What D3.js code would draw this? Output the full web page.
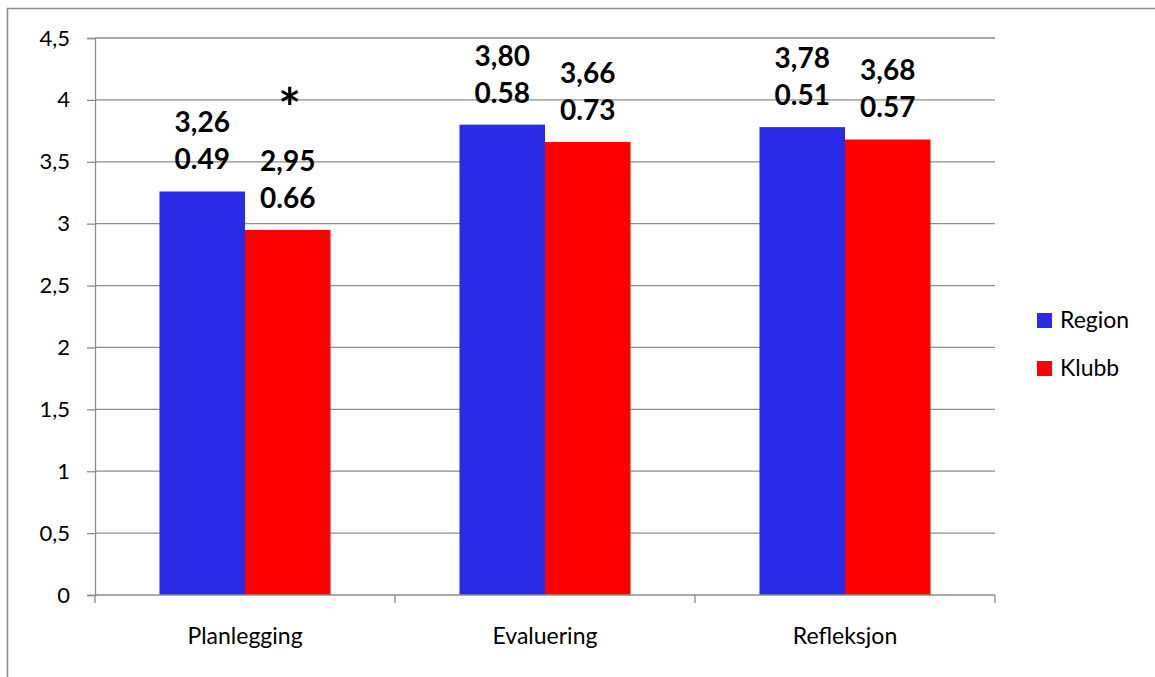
<!DOCTYPE html>
<html><head><meta charset="utf-8">
<script src="https://cdn.jsdelivr.net/npm/d3@7"></script>
<style>body{margin:0;background:#fff}svg{display:block}</style>
</head><body>
<script>
const categories = ["Planlegging", "Evaluering", "Refleksjon"];
const seriesNames = ["Region", "Klubb"];
const regionValues = [3.26, 3.80, 3.78];
const klubbValues = [2.95, 3.66, 3.68];
const regionSD = ["0.49", "0.58", "0.51"];
const klubbSD = ["0.66", "0.73", "0.57"];
const yTicks = [0, 0.5, 1, 1.5, 2, 2.5, 3, 3.5, 4, 4.5];
const colors = ["#2a2be6", "#ff0000"];
const significant = [true, false, false];

(function () {
const W = 1155, H = 677;
const svg = d3.select("body").append("svg").attr("width", W).attr("height", H);
const font = "Lato, 'Open Sans', sans-serif";

svg.append("rect").attr("x", 7.5).attr("y", 8.5).attr("width", W).attr("height", H)
  .attr("fill", "none").attr("stroke", "#8c8c8c").attr("stroke-width", 1.5);

const pL = 95, pR = 995, pT = 38, pB = 595;
const y = d3.scaleLinear().domain([0, 4.5]).range([pB, pT]);
const x0 = d3.scaleBand().domain(categories).range([pL, pR]).padding(0);
const x1 = d3.scaleBand().domain(seriesNames).range([0, x0.bandwidth()]).paddingInner(0).paddingOuter(0.754);

svg.append("g").selectAll("line").data(yTicks.filter(d => d > 0)).join("line")
  .attr("x1", pL).attr("x2", pR).attr("y1", d => y(d)).attr("y2", d => y(d))
  .attr("stroke", "#8c8c8c").attr("stroke-width", 1.3);

const fmt = d => String(d).replace(".", ",");
const yAxis = svg.append("g").attr("transform", `translate(${pL},0)`)
  .call(d3.axisLeft(y).tickValues(yTicks).tickFormat(fmt).tickSize(8).tickPadding(17));
yAxis.select(".domain").attr("stroke", "#8c8c8c").attr("stroke-width", 1.3);
yAxis.selectAll(".tick line").attr("stroke", "#8c8c8c").attr("stroke-width", 1.3);
yAxis.selectAll("text").attr("font-family", font).attr("font-size", 22).attr("fill", "#000");

const data = categories.map((c, i) => ({c, i, vals: [
  {s: "Region", v: regionValues[i], sd: regionSD[i], col: colors[0]},
  {s: "Klubb", v: klubbValues[i], sd: klubbSD[i], col: colors[1]}]}));
const g = svg.append("g").selectAll("g").data(data).join("g")
  .attr("transform", d => `translate(${x0(d.c)},0)`);
g.selectAll("rect").data(d => d.vals).join("rect")
  .attr("x", d => x1(d.s)).attr("width", x1.bandwidth())
  .attr("y", d => y(d.v)).attr("height", d => pB - y(d.v))
  .attr("fill", d => d.col);

const xAxis = svg.append("g").attr("transform", `translate(0,${pB})`);
xAxis.append("line").attr("x1", pL).attr("x2", pR).attr("stroke", "#8c8c8c").attr("stroke-width", 1.3);
xAxis.selectAll(".tk").data([...categories.map(c => x0(c)), pR]).join("line")
  .attr("x1", d => d).attr("x2", d => d).attr("y1", 0).attr("y2", 8)
  .attr("stroke", "#8c8c8c").attr("stroke-width", 1.3);
xAxis.selectAll("text").data(categories).join("text")
  .attr("x", d => x0(d) + x0.bandwidth() / 2).attr("y", 49)
  .attr("text-anchor", "middle").attr("font-family", font).attr("font-size", 23).attr("fill", "#000")
  .text(d => d);

g.selectAll("text.v").data(d => d.vals).join("text").attr("class", "v")
  .attr("x", d => x1(d.s) + x1.bandwidth() / 2).attr("y", d => y(d.v) - 59)
  .attr("text-anchor", "middle").attr("font-family", font).attr("font-weight", "bold")
  .attr("font-size", 28).attr("fill", "#000").text(d => d.v.toFixed(2).replace(".", ","));
g.selectAll("text.sd").data(d => d.vals).join("text").attr("class", "sd")
  .attr("x", d => x1(d.s) + x1.bandwidth() / 2).attr("y", d => y(d.v) - 22)
  .attr("text-anchor", "middle").attr("font-family", font).attr("font-weight", "bold")
  .attr("font-size", 28).attr("fill", "#000").text(d => d.sd);
g.filter(d => significant[d.i]).append("text")
  .attr("x", x1("Klubb") + x1.bandwidth() / 2 + 2).attr("y", y(4) + 27)
  .attr("text-anchor", "middle").attr("font-family", font).attr("font-weight", "bold")
  .attr("font-size", 54).attr("fill", "#000").text("*");

const lg = svg.append("g").selectAll("g").data(seriesNames).join("g")
  .attr("transform", (d, i) => `translate(1037,${313 + i * 48})`);
lg.append("rect").attr("width", 15).attr("height", 15).attr("fill", (d, i) => colors[i]);
lg.append("text").attr("x", 23).attr("y", 15).attr("font-family", font).attr("font-size", 23)
  .attr("fill", "#000").text(d => d);
})();
</script>
</body></html>
